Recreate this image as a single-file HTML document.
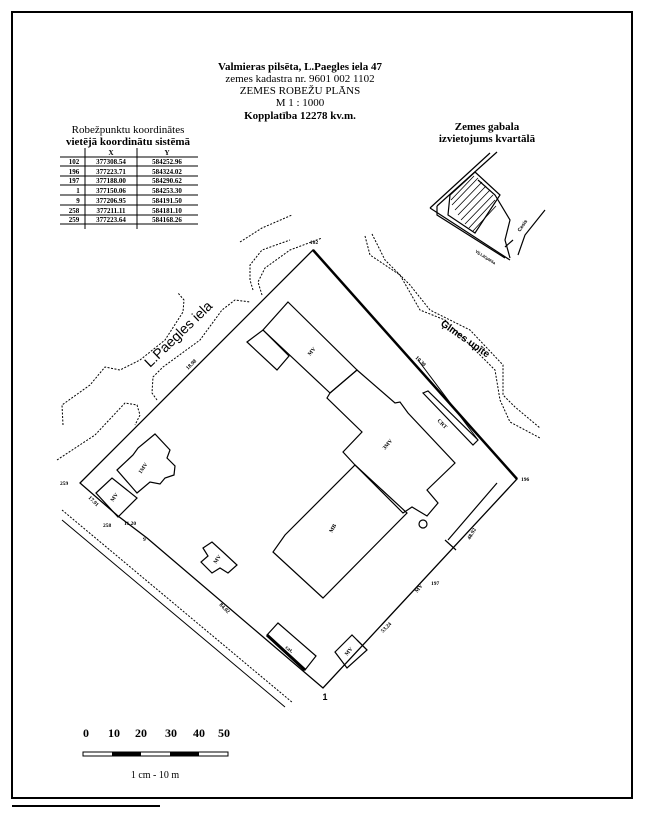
<!DOCTYPE html>
<html><head><meta charset="utf-8"><style>
html,body{margin:0;padding:0;background:#fff;}
svg{display:block}
text{font-family:"Liberation Serif",serif;fill:#000}
.s{font-family:"Liberation Sans",sans-serif;font-weight:bold}
</style></head><body>
<svg width="645" height="818" viewBox="0 0 645 818" xmlns="http://www.w3.org/2000/svg">
<rect x="12" y="12" width="620" height="786" fill="none" stroke="#000" stroke-width="2"/>
<line x1="12" y1="806" x2="160" y2="806" stroke="#000" stroke-width="2"/>
<g text-anchor="middle" font-size="11">
<text x="300" y="70" font-weight="bold">Valmieras pilsēta, L.Paegles iela 47</text>
<text x="300" y="82">zemes kadastra nr. 9601 002 1102</text>
<text x="300" y="94">ZEMES ROBEŽU PLĀNS</text>
<text x="300" y="106">M 1 : 1000</text>
<text x="300" y="119" font-weight="bold">Kopplatība 12278 kv.m.</text>
<text x="128" y="133">Robežpunktu koordinātes</text>
<text x="128" y="145" font-weight="bold">vietējā  koordinātu sistēmā</text>
<text x="487" y="130" font-weight="bold">Zemes gabala</text>
<text x="487" y="142" font-weight="bold">izvietojums kvartālā</text>
</g>
<g stroke="#000" stroke-width="1">
<line x1="85" y1="148" x2="85" y2="229"/><line x1="137" y1="148" x2="137" y2="229"/>
<line x1="60" y1="157" x2="198" y2="157"/><line x1="60" y1="166" x2="198" y2="166"/>
<line x1="60" y1="176" x2="198" y2="176"/><line x1="60" y1="185" x2="198" y2="185"/>
<line x1="60" y1="195" x2="198" y2="195"/><line x1="60" y1="205" x2="198" y2="205"/>
<line x1="60" y1="215" x2="198" y2="215"/><line x1="60" y1="224" x2="198" y2="224"/>
</g>
<g font-size="7" text-anchor="middle" font-weight="bold">
<text x="111" y="155">X</text><text x="167" y="155">Y</text>
<text x="74" y="164">102</text><text x="111" y="164">377308.54</text><text x="167" y="164">584252.96</text>
<text x="74" y="174">196</text><text x="111" y="174">377223.71</text><text x="167" y="174">584324.02</text>
<text x="74" y="183">197</text><text x="111" y="183">377188.00</text><text x="167" y="183">584290.62</text>
<text x="78" y="193">1</text><text x="111" y="193">377150.06</text><text x="167" y="193">584253.30</text>
<text x="78" y="203">9</text><text x="111" y="203">377206.95</text><text x="167" y="203">584191.50</text>
<text x="74" y="213">258</text><text x="111" y="213">377211.11</text><text x="167" y="213">584181.10</text>
<text x="74" y="222">259</text><text x="111" y="222">377223.64</text><text x="167" y="222">584168.26</text>
</g>
<g stroke="#000" fill="none" stroke-width="1.2">
<line x1="430" y1="208" x2="490" y2="153"/><line x1="437" y1="206" x2="497" y2="152"/>
<polyline points="430,208 510,260"/>
<polyline points="437,206 437,215 505,258"/>
<polygon points="450,195 475,172 500,195 475,233 448,215"/>
<polyline points="478,180 495,195 510,220 505,240 510,258"/>
<polyline points="518,255 525,235 545,210"/>
<line x1="505" y1="247" x2="513" y2="240"/>
</g>
<g stroke="#000" stroke-width="0.8">
<line x1="452" y1="205" x2="478" y2="178"/><line x1="455" y1="210" x2="482" y2="182"/>
<line x1="458" y1="215" x2="486" y2="186"/><line x1="461" y1="220" x2="490" y2="190"/>
<line x1="465" y1="224" x2="493" y2="195"/><line x1="469" y1="228" x2="495" y2="200"/>
<line x1="473" y1="231" x2="496" y2="206"/><line x1="451" y1="200" x2="474" y2="176"/>
</g>
<text x="520" y="232" font-size="5" class="s" transform="rotate(-55 520 232)">Cesis</text>
<text x="475" y="252" font-size="4" class="s" transform="rotate(33 475 252)">Vij.Lāčplēša</text>
<g stroke="#000" fill="none" stroke-width="1" stroke-dasharray="2,1.5">
<polyline points="63,425 62,405 90,385 105,367 120,370 140,360 165,340 183,312 184,300 178,293"/>
<polyline points="157,400 152,393 153,377 163,367 200,340 222,310 235,300 250,302"/>
<polyline points="57,460 95,435 125,403 137,405 140,415 135,425"/>
<polyline points="253,290 250,280 250,265 262,250 290,240"/>
<polyline points="262,295 258,282 265,268 290,250 322,238"/>
<polyline points="240,242 262,228 292,215"/>
<polyline points="365,236 370,255 400,275 420,310 445,320 480,355 495,370 500,400 510,422 540,438"/>
<polyline points="372,234 385,260 410,285 430,310 470,330 503,365 503,395 515,407 540,428"/>
<line x1="62" y1="510" x2="293" y2="703"/>
</g>
<line x1="62" y1="520" x2="285" y2="707" stroke="#000" stroke-width="1"/>
<polygon points="313,250 517,479 323,688 147,538 118,516 80,483" fill="none" stroke="#000" stroke-width="1.3"/>
<line x1="313" y1="250" x2="517" y2="479" stroke="#000" stroke-width="2.5"/>
<line x1="418" y1="360" x2="478" y2="440" stroke="#000" stroke-width="1"/>
<line x1="267" y1="635" x2="305" y2="670" stroke="#000" stroke-width="3"/>
<g fill="none" stroke="#000" stroke-width="1.2">
<polygon points="288,302 357,370 330,393 263,330"/>
<polygon points="247,342 263,330 289,356 277,370"/>
<polygon points="357,370 395,403 400,402 408,413 455,463 427,490 438,503 427,516 412,507 403,513 355,465 343,452 362,432 327,398 330,393"/>
<polygon points="355,465 407,513 323,598 273,552 285,535"/>
<circle cx="423" cy="524" r="4"/>
<polygon points="423,393 428,391 478,440 473,445"/>
<polygon points="117,470 133,455 138,448 155,434 170,450 167,458 175,466 174,475 165,478 160,484 150,482 137,493"/>
<polygon points="96,493 112,478 137,498 118,517"/>
<polygon points="203,548 212,542 223,552 237,565 228,573 220,568 212,573 201,562 208,556"/>
<polygon points="267,635 278,623 316,656 305,670"/>
<polygon points="335,652 352,635 367,650 347,668"/>
<line x1="357" y1="640" x2="367" y2="650"/>
<line x1="497" y1="483" x2="448" y2="540"/>
<line x1="445" y1="540" x2="456" y2="550"/>
</g>
<g class="s" font-size="5.5">
<text x="314" y="244" text-anchor="middle">102</text>
<text x="521" y="481">196</text>
<text x="431" y="585">197</text>
<text x="60" y="485">259</text>
<text x="103" y="527">258</text>
<text x="143" y="541">9</text>
<text x="188" y="370" transform="rotate(-45 188 370)">18.98</text>
<text x="415" y="358" transform="rotate(45 415 358)">10.30</text>
<text x="88" y="498" transform="rotate(45 88 498)">17.91</text>
<text x="124" y="525">11.20</text>
<text x="219" y="605" transform="rotate(45 219 605)">84.02</text>
<text x="383" y="633" transform="rotate(-45 383 633)">53.24</text>
<text x="470" y="540" transform="rotate(-60 470 540)">48.92</text>
<text x="310" y="356" transform="rotate(-50 310 356)">MV</text>
<text x="385" y="450" transform="rotate(-50 385 450)">3MV</text>
<text x="332" y="533" transform="rotate(-60 332 533)">MB</text>
<text x="437" y="421" transform="rotate(45 437 421)">CRT</text>
<text x="141" y="474" transform="rotate(-55 141 474)">1MV</text>
<text x="113" y="502" transform="rotate(-55 113 502)">MV</text>
<text x="216" y="564" transform="rotate(-55 216 564)">MV</text>
<text x="285" y="648" transform="rotate(38 285 648)">cat.</text>
<text x="347" y="656" transform="rotate(-50 347 656)">MV</text>
<text x="417" y="593" transform="rotate(-50 417 593)">MV</text>
</g>
<text x="325" y="700" font-size="9" text-anchor="middle" class="s">1</text>
<text x="150" y="368" font-size="14" style="font-family:'Liberation Sans',sans-serif" transform="rotate(-44 150 368)">L.Paegles iela</text>
<text x="440" y="325" font-size="10" class="s" transform="rotate(35 440 325)">Ģimes upīte</text>
<g font-size="12" text-anchor="middle" class="s">
<text x="86" y="737">0</text><text x="114" y="737">10</text><text x="141" y="737">20</text><text x="171" y="737">30</text><text x="199" y="737">40</text><text x="224" y="737">50</text>
</g>
<rect x="83" y="752" width="145" height="4" fill="#fff" stroke="#000" stroke-width="1"/>
<rect x="112" y="752" width="29" height="4" fill="#000"/>
<rect x="170" y="752" width="29" height="4" fill="#000"/>
<text x="155" y="778" font-size="10" text-anchor="middle">1 cm - 10 m</text>
</svg>
</body></html>
